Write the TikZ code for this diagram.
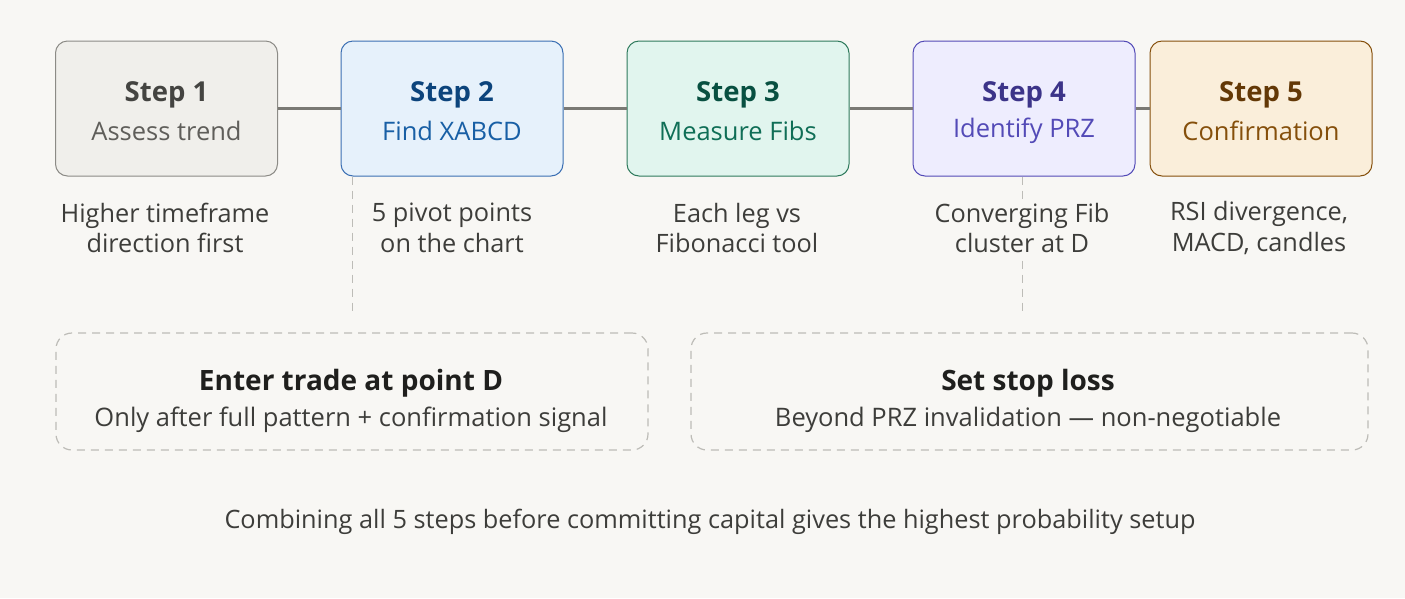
\documentclass[tikz,border=0pt]{standalone}
\usepackage{fontspec}
\setmainfont{Open Sans}
\definecolor{bg}{HTML}{F8F7F4}
\definecolor{txt}{HTML}{3D3D3A}
\definecolor{dark}{HTML}{1F1F1D}
\definecolor{lin}{HTML}{7A7974}
\definecolor{dsh}{HTML}{BDBCB7}
\definecolor{fA}{HTML}{F0EFEB}\definecolor{dA}{HTML}{8C8B86}\definecolor{tA}{HTML}{444441}\definecolor{sA}{HTML}{5F5E5A}
\definecolor{fB}{HTML}{E6F1FB}\definecolor{dB}{HTML}{3B6FB3}\definecolor{tB}{HTML}{0C447C}\definecolor{sB}{HTML}{185FA5}
\definecolor{fC}{HTML}{E1F5EE}\definecolor{dC}{HTML}{2E7A5C}\definecolor{tC}{HTML}{085041}\definecolor{sC}{HTML}{0F6E56}
\definecolor{fD}{HTML}{EEEDFE}\definecolor{dD}{HTML}{534AB7}\definecolor{tD}{HTML}{3C3489}\definecolor{sD}{HTML}{534AB7}
\definecolor{fE}{HTML}{FAEEDA}\definecolor{dE}{HTML}{854F0B}\definecolor{tE}{HTML}{633806}\definecolor{sE}{HTML}{854F0B}
\tikzset{
  stepbox/.style={draw, line width=1pt, rounded corners=12pt, minimum width=222pt, minimum height=135pt, inner sep=0pt},
  ttl/.style={font=\fontsize{27.5}{30}\selectfont\bfseries},
  sub/.style={font=\fontsize{25.5}{26}\selectfont},
  desc/.style={font=\fontsize{25.3}{30.5}\selectfont, text=txt, align=center, fill=bg, inner sep=2pt},
  conn/.style={draw=lin, line width=2.5pt},
  vdash/.style={draw=dsh, line width=1pt, dash pattern=on 8pt off 6pt},
  notebox/.style={draw=dsh, line width=1.2pt, dash pattern=on 8pt off 6pt, rounded corners=16pt, inner sep=0pt},
  nhead/.style={font=\fontsize{28}{28}\selectfont\bfseries, text=dark},
  nsub/.style={font=\fontsize{25.5}{26}\selectfont, text=txt},
}
\begin{document}
\begin{tikzpicture}[x=1pt,y=-1pt]
\fill[bg] (0,0) rectangle (1405,598);
\useasboundingbox (0,0) rectangle (1405,598);
% step boxes
\node[stepbox, fill=fA, draw=dA] (s1) at (166.5,108.5) {};
\node[stepbox, fill=fB, draw=dB] (s2) at (452,108.5) {};
\node[stepbox, fill=fC, draw=dC] (s3) at (738,108.5) {};
\node[stepbox, fill=fD, draw=dD] (s4) at (1024,108.5) {};
\node[stepbox, fill=fE, draw=dE] (s5) at (1261,108.5) {};
% connectors
\draw[conn] (s1.east) -- (s2.west);
\draw[conn] (s2.east) -- (s3.west);
\draw[conn] (s3.east) -- (s4.west);
\draw[conn] (s4.east) -- (s5.west);
% titles
\node[ttl, text=tA] (t1) at (166.5,95) {Step 1};
\node[sub, text=sA] (u1) at (166.5,131) {Assess trend};
\node[ttl, text=tB] (t2) at (452,95) {Step 2};
\node[sub, text=sB] (u2) at (452,131) {Find XABCD};
\node[ttl, text=tC] (t3) at (738,95) {Step 3};
\node[sub, text=sC] (u3) at (738,131) {Measure Fibs};
\node[ttl, text=tD] (t4) at (1024,95) {Step 4};
\node[sub, text=sD] (u4) at (1024,131) {Identify PRZ};
\node[ttl, text=tE] (t5) at (1261,95) {Step 5};
\node[sub, text=sE] (u5) at (1261,131) {Confirmation};
% note boxes
\node[notebox, minimum width=592pt, minimum height=117pt] (n1) at (352,391.5) {};
\node[notebox, minimum width=677pt, minimum height=117pt] (n2) at (1029.5,391.5) {};
% dashed links
\coordinate (c2) at (352,176.5);
\coordinate (c4) at (1022,176.5);
\draw[vdash] (c2) -- (352,316);
\draw[vdash] (c4) -- (1022,316);
% descriptions
\node[desc] (d1) at (165,228) {Higher timeframe\\direction first};
\node[desc] (d2) at (452,228) {5 pivot points\\on the chart};
\node[desc] (d3) at (737,228) {Each leg vs\\Fibonacci tool};
\node[desc] (d4) at (1022,228) {Converging Fib\\cluster at D};
\node[desc] (d5) at (1259,228) {RSI divergence,\\MACD, candles};
% note texts
\node[nhead] (h1) at (351,383) {Enter trade at point D};
\node[nsub] (b1) at (351,420) {Only after full pattern + confirmation signal};
\node[nhead] (h2) at (1028,383) {Set stop loss};
\node[nsub] (b2) at (1028,420) {Beyond PRZ invalidation — non-negotiable};
% footer
\node[font=\fontsize{25.3}{26}\selectfont, text=txt] (foot) at (710,522) {Combining all 5 steps before committing capital gives the highest probability setup};
\end{tikzpicture}
\end{document}
